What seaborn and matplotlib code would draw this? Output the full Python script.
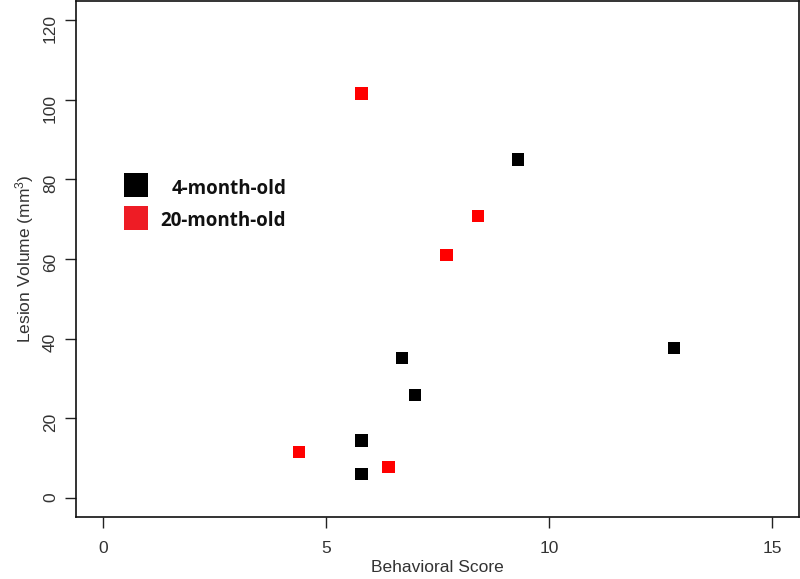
import pandas as pd
import seaborn as sns
import matplotlib as mpl
from matplotlib import pyplot as plt
from matplotlib.patches import Rectangle

# values
young_score = [5.8, 5.8, 6.7, 7.0, 9.3, 12.8]
young_volume = [6.0, 14.4, 35.1, 25.9, 85.0, 37.7]
old_score = [5.8, 8.4, 7.7, 4.4, 6.4]
old_volume = [101.6, 70.9, 61.1, 11.5, 7.8]
groups = ['4-month-old', '20-month-old']
colors = ['#000000', '#ff0000']
legend_colors = ['#000000', '#ee1c25']

sns.set_style('ticks')
plt.rcParams['font.family'] = ['Liberation Sans', 'DejaVu Sans']
plt.rcParams['mathtext.default'] = 'regular'

df = pd.DataFrame({
    'score': young_score + old_score,
    'volume': young_volume + old_volume,
    'group': [groups[0]] * len(young_score) + [groups[1]] * len(old_score),
})

fig = plt.figure(figsize=(8, 5.79), dpi=100)
ax = fig.add_axes([0.095, 0.107, 0.904, 0.891])
sns.scatterplot(data=df, x='score', y='volume', hue='group', palette=colors,
                marker='s', s=80, linewidth=0, legend=False, ax=ax)

ax.set_xlim(-0.6, 15.6)
ax.set_ylim(-4.8, 124.8)
ax.set_xticks([0, 5, 10, 15])
ax.set_yticks([0, 20, 40, 60, 80, 100, 120])
ax.tick_params(length=8, width=1, color='#222222', labelsize=12.5,
               labelcolor='#333333', pad=9)
ax.tick_params(axis='y', labelrotation=90, pad=5)
for sp in ax.spines.values():
    sp.set_color('#111111')
    sp.set_linewidth(1.2)
ax.set_xlabel('Behavioral Score', fontsize=12.5, color='#333333', labelpad=3)
ax.set_ylabel('Lesion Volume (mm$^{3}$)', fontsize=12.5, color='#333333', labelpad=5)

# legend drawn as in the original (right-aligned labels)
for i, (g, c) in enumerate(zip(groups, legend_colors)):
    top = 173 + 33 * i
    fig.patches.append(Rectangle((124 / 800, 1 - (top + 24) / 579), 24 / 800, 24 / 579,
                                 transform=fig.transFigure, color=c, lw=0))
    fig.text(286 / 800, 1 - (194 + 32 * i) / 579, g, ha='right', va='baseline',
             fontsize=13.5, fontweight='bold', family=['Open Sans', 'DejaVu Sans'],
             color='#111111')

plt.savefig('out.png', dpi=100)
